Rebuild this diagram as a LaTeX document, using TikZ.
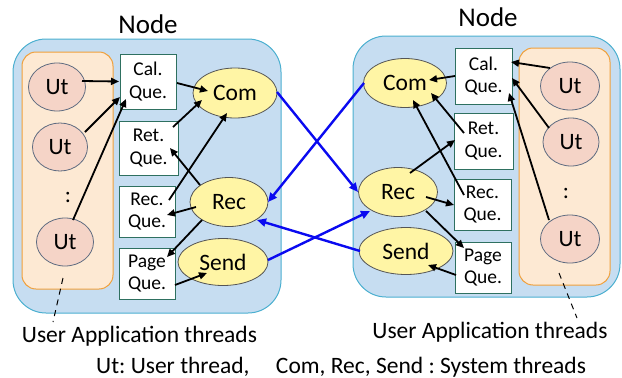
\documentclass[tikz,border=0pt]{standalone}
\usepackage{fontspec}
\setmainfont{Carlito}
\frenchspacing
\usetikzlibrary{shapes.geometric,arrows.meta,calc}

\definecolor{nodefill}{HTML}{C6DDF1}
\definecolor{nodeedge}{HTML}{4BAFD0}
\definecolor{userfill}{HTML}{FDE9D3}
\definecolor{useredge}{HTML}{F0A03C}
\definecolor{utfill}{HTML}{F5D4C7}
\definecolor{utedge}{HTML}{5E6B80}
\definecolor{sysfill}{HTML}{FFF5A5}
\definecolor{sysedge}{HTML}{555555}
\definecolor{queedge}{HTML}{2E7060}
\definecolor{netblue}{HTML}{0A0AF0}

\tikzset{
  hostbox/.style={draw=nodeedge, fill=nodefill, line width=1pt, rounded corners=33pt},
  userbox/.style={draw=useredge, fill=userfill, line width=1pt, rounded corners=14pt},
  utnode/.style={ellipse, draw=utedge, fill=utfill, line width=0.8pt, minimum width=57pt,
    minimum height=48pt, inner sep=0pt, font=\fontsize{23.5}{26}\selectfont},
  sysnode/.style={ellipse, draw=sysedge, fill=sysfill, line width=0.8pt, minimum height=49pt,
    inner sep=0pt, font=\fontsize{23.5}{26}\selectfont},
  quenode/.style={rectangle, draw=queedge, fill=white, line width=1pt, inner sep=0pt,
    align=center, font=\fontsize{19.5}{22.5}\selectfont},
  arr/.style={line width=1.8pt, -{Triangle[length=8pt,width=7pt]}},
  netarr/.style={line width=2.4pt, draw=netblue, -{Triangle[length=9pt,width=8pt]}},
  title/.style={anchor=base, inner sep=0pt, font=\fontsize{27}{30}\selectfont},
  caption/.style={anchor=base, inner sep=0pt, font=\fontsize{23.5}{26}\selectfont},
  dots/.style={inner sep=0pt, font=\fontsize{23}{26}\selectfont},
}

\begin{document}
\begin{tikzpicture}[x=1pt, y=-1pt]
\useasboundingbox (0,0) rectangle (622,378);

% ---------- left host ----------
\node[title] (ltitle) at (148,33) {Node};
\draw[hostbox] (13,39) rectangle (281,313);
\draw[userbox] (22,52) rectangle (113,289);

\node[utnode] (lut1) at (57,87) {Ut};
\node[utnode, minimum width=55pt] (lut2) at (60,147) {Ut};
\node[dots] (ldots) at (68,197) {:};
\node[utnode] (lut3) at (65,242) {Ut};

\node[quenode, minimum width=56pt, minimum height=55pt] (lcal) at (148,81.5) {Cal.\\Que.};
\node[quenode, minimum width=59pt, minimum height=54pt] (lret) at (148.5,148) {Ret.\\Que.};
\node[quenode, minimum width=56pt, minimum height=51pt] (lrecq) at (147,211.5) {Rec.\\Que.};
\node[quenode, minimum width=56pt, minimum height=51pt] (lpage) at (147,273.5) {Page\\Que.};

\node[sysnode, minimum width=84pt, minimum height=50pt] (lcom) at (235,93) {Com};
\node[sysnode, minimum width=78pt] (lrec) at (229,202) {Rec};
\node[sysnode, minimum width=90pt, minimum height=47pt] (lsend) at (223,262) {Send};

% ---------- right host ----------
\node[title] (rtitle) at (488,26) {Node};
\draw[hostbox] (353,36) rectangle (620,297);
\draw[userbox] (519,48) rectangle (610,285);

\node[utnode, minimum width=59pt] (rut1) at (570,86) {Ut};
\node[utnode, minimum width=56pt] (rut2) at (571,142) {Ut};
\node[dots] (rdots) at (566,193) {:};
\node[utnode, minimum width=59pt] (rut3) at (570,239) {Ut};

\node[quenode, minimum width=57pt, minimum height=56pt] (rcal) at (483.5,76) {Cal.\\Que.};
\node[quenode, minimum width=59pt, minimum height=56pt] (rret) at (483.5,141) {Ret.\\Que.};
\node[quenode, minimum width=57pt, minimum height=51pt] (rrecq) at (482.5,204.5) {Rec.\\Que.};
\node[quenode, minimum width=56pt, minimum height=51pt] (rpage) at (483,267.5) {Page\\Que.};

\node[sysnode, minimum width=83pt] (rcom) at (405,83) {Com};
\node[sysnode, minimum width=79pt] (rrec) at (398,192) {Rec};
\node[sysnode, minimum width=94pt, minimum height=47pt] (rsend) at (406,251) {Send};

% ---------- threads inside the left host ----------
\draw[arr] ([shift={(25,-6)}]lut1.center) -- ([shift={(-29,0)}]lcal.center);
\draw[arr] ([shift={(25,-15)}]lut2.center) -- ([shift={(-28,15.5)}]lcal.center);
\draw[arr] ([shift={(8,-22)}]lut3.center) -- ([shift={(-22,17.5)}]lcal.center);
\draw[arr] ([shift={(29,1.5)}]lcal.center) -- ([shift={(-27,-2)}]lcom.center);
\draw[arr] ([shift={(24.5,-21)}]lret.center) -- ([shift={(-33,7)}]lcom.center);
\draw[arr] ([shift={(22,-11.5)}]lrecq.center) -- ([shift={(-8,20)}]lcom.center);
\draw[arr] ([shift={(-29,-17)}]lrec.center) -- ([shift={(21.5,0)}]lret.center);
\draw[arr] ([shift={(-33,5)}]lrec.center) -- ([shift={(20,3.5)}]lrecq.center);
\draw[arr] ([shift={(-27,18)}]lrec.center) -- ([shift={(20,-16.5)}]lpage.center);
\draw[arr] ([shift={(28,11.5)}]lpage.center) -- ([shift={(-16,11)}]lsend.center);

% ---------- threads inside the right host ----------
\draw[arr] ([shift={(-20,-18)}]rut1.center) -- ([shift={(27.5,-14)}]rcal.center);
\draw[arr] ([shift={(-22,-14)}]rut2.center) -- ([shift={(28.5,2)}]rcal.center);
\draw[arr] ([shift={(-21,-19)}]rut3.center) -- ([shift={(25.5,17)}]rcal.center);
\draw[arr] ([shift={(-28.5,0)}]rcal.center) -- ([shift={(24,-3)}]rcom.center);
\draw[arr] ([shift={(-19.5,-8)}]rret.center) -- ([shift={(26,10)}]rcom.center);
\draw[arr] ([shift={(-18.5,-9.5)}]rrecq.center) -- ([shift={(8,17)}]rcom.center);
\draw[arr] ([shift={(12,-19)}]rrec.center) -- ([shift={(-28.5,-1)}]rret.center);
\draw[arr] ([shift={(28,5)}]rrec.center) -- ([shift={(-28.5,0.5)}]rrecq.center);
\draw[arr] ([shift={(28,19)}]rrec.center) -- ([shift={(-19,-19.5)}]rpage.center);
\draw[arr] ([shift={(-27,7.5)}]rpage.center) -- ([shift={(22,14)}]rsend.center);

% ---------- network traffic between the hosts ----------
\draw[netarr] ([shift={(42,-1)}]lcom.center) -- ([shift={(-40,0)}]rrec.center);
\draw[netarr] ([shift={(-41,0)}]rcom.center) -- ([shift={(39,0)}]lrec.center);
\draw[netarr] ([shift={(-46,0)}]rsend.center) -- ([shift={(28,18)}]lrec.center);
\draw[netarr] ([shift={(45,-2)}]lsend.center) -- ([shift={(-28,19)}]rrec.center);

% ---------- captions ----------
\node[caption] (lcap) at (139.5,342) {User Application threads};
\node[caption] (rcap) at (490,338) {User Application threads};
\node[caption, anchor=base west] (legend) at (96,373)
  {Ut: User thread,\hspace*{0.9em} Com, Rec, Send : System threads};

\coordinate (ldashstart) at (63,278);
\coordinate (ldashend) at (53,322);
\coordinate (rdashstart) at (559,273);
\coordinate (rdashend) at (577,318);
\draw[line width=1pt, dash pattern=on 6pt off 5pt] (ldashstart) -- (ldashend);
\draw[line width=1pt, dash pattern=on 6pt off 5pt] (rdashstart) -- (rdashend);
\end{tikzpicture}
\end{document}
